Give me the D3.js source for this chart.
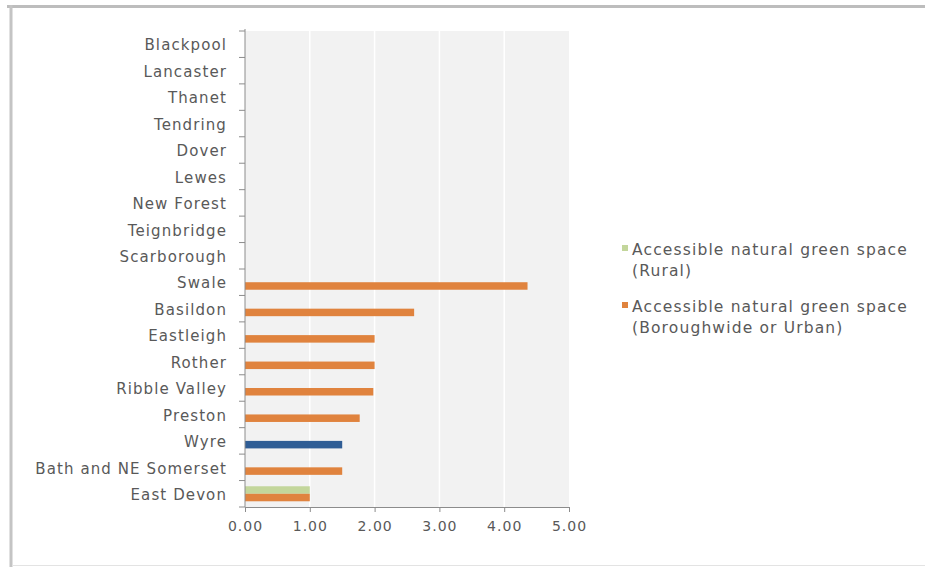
<!DOCTYPE html>
<html>
<head>
<meta charset="utf-8">
<script src="https://cdn.jsdelivr.net/npm/d3@7"></script>
<style>
  html, body { margin: 0; padding: 0; background: #ffffff; }
  svg { display: block; }
  text { font-family: "DejaVu Sans", sans-serif; fill: #595959; }
</style>
</head>
<body>
<svg id="chart" width="925" height="567"></svg>
<script>
// ---- data ----
const categories = ["Blackpool", "Lancaster", "Thanet", "Tendring", "Dover", "Lewes",
  "New Forest", "Teignbridge", "Scarborough", "Swale", "Basildon", "Eastleigh",
  "Rother", "Ribble Valley", "Preston", "Wyre", "Bath and NE Somerset", "East Devon"];
const ruralValues = [null, null, null, null, null, null, null, null, null,
  null, null, null, null, null, null, null, null, 1.00];
const urbanValues = [null, null, null, null, null, null, null, null, null,
  4.36, 2.61, 2.00, 2.00, 1.98, 1.77, 1.50, 1.50, 1.00];
const seriesNames = ["Accessible natural green space (Rural)",
  "Accessible natural green space (Boroughwide or Urban)"];
const legendLines = [["Accessible natural green space", "(Rural)"],
  ["Accessible natural green space", "(Boroughwide or Urban)"]];
const highlightCategory = "Wyre";
const xTicks = [0, 1, 2, 3, 4, 5];

// ---- styles ----
const colors = { rural: "#c3d69b", urban: "#e0833e", highlight: "#2f5d95" };

const svg = d3.select("#chart");

// chart frame
svg.append("line").attr("x1", 7).attr("x2", 925).attr("y1", 6.5).attr("y2", 6.5)
  .attr("stroke", "#bdbdbd").attr("stroke-width", 3);
svg.append("line").attr("x1", 11).attr("x2", 11).attr("y1", 5).attr("y2", 567)
  .attr("stroke", "#c4c4c4").attr("stroke-width", 3);
svg.append("line").attr("x1", 12).attr("x2", 925).attr("y1", 565.5).attr("y2", 565.5)
  .attr("stroke", "#e3e3e3").attr("stroke-width", 1);

const plot = { left: 245, right: 569, top: 31, bottom: 507 };

const x = d3.scaleLinear().domain([0, 5]).range([plot.left, plot.right]);
const y = d3.scaleBand().domain(categories).range([plot.top, plot.bottom]).paddingInner(0).paddingOuter(0);
const inner = d3.scaleBand().domain(["rural", "urban"])
  .range([0, y.bandwidth()]).paddingInner(0).paddingOuter(0.76);

// plot background
svg.append("rect").attr("x", plot.left).attr("y", plot.top)
  .attr("width", plot.right - plot.left).attr("height", plot.bottom - plot.top)
  .attr("fill", "#f2f2f2");

// gridlines
svg.append("g").selectAll("line").data(xTicks.filter(d => d > 0 && d < 5)).join("line")
  .attr("x1", d => x(d)).attr("x2", d => x(d))
  .attr("y1", plot.top).attr("y2", plot.bottom)
  .attr("stroke", "#ffffff").attr("stroke-width", 1.5);

// bars
const rows = categories.map((c, i) => ({ c, rural: ruralValues[i], urban: urbanValues[i] }));
const barG = svg.append("g");
barG.selectAll("rect.rural").data(rows.filter(r => r.rural != null)).join("rect")
  .attr("class", "rural")
  .attr("x", x(0)).attr("y", d => y(d.c) + inner("rural"))
  .attr("width", d => x(d.rural) - x(0)).attr("height", inner.bandwidth())
  .attr("fill", colors.rural);
barG.selectAll("rect.urban").data(rows.filter(r => r.urban != null)).join("rect")
  .attr("class", "urban")
  .attr("x", x(0)).attr("y", d => y(d.c) + inner("urban"))
  .attr("width", d => x(d.urban) - x(0)).attr("height", inner.bandwidth())
  .attr("fill", d => d.c === highlightCategory ? colors.highlight : colors.urban);

// x axis
const xAxis = d3.axisBottom(x).tickValues(xTicks).tickFormat(d3.format(".2f"))
  .tickSizeInner(5).tickSizeOuter(0).tickPadding(9);
const gx = svg.append("g").attr("transform", `translate(0,${plot.bottom})`).call(xAxis);
gx.select(".domain").attr("stroke", "#8c8c8c");
gx.selectAll(".tick line").attr("stroke", "#8c8c8c");
gx.selectAll(".tick text").attr("font-size", 14).style("font-family", "DejaVu Sans, sans-serif")
  .style("letter-spacing", "1px").attr("fill", "#595959");

// y axis (labels centered on bands, ticks between categories)
const gy = svg.append("g").attr("transform", `translate(${plot.left},0)`);
gy.append("line").attr("x1", 0).attr("x2", 0).attr("y1", plot.top - 2).attr("y2", plot.bottom)
  .attr("stroke", "#8c8c8c");
const boundaries = categories.map(c => y(c)).concat([plot.bottom]);
gy.selectAll("line.tk").data(boundaries).join("line").attr("class", "tk")
  .attr("x1", -6).attr("x2", 0).attr("y1", d => d).attr("y2", d => d)
  .attr("stroke", "#8c8c8c");
gy.selectAll("text").data(categories).join("text")
  .attr("x", -18).attr("y", d => y(d) + y.bandwidth() / 2 + 1)
  .attr("dy", "0.35em").attr("text-anchor", "end")
  .attr("font-size", 15).style("letter-spacing", "1.1px").text(d => d);

// legend
const legend = svg.append("g");
const legendY = [250, 307];
const legendColors = [colors.rural, colors.urban];
legendLines.forEach((lines, i) => {
  legend.append("rect").attr("x", 622).attr("y", legendY[i] - 5).attr("width", 6).attr("height", 6)
    .attr("fill", legendColors[i]);
  lines.forEach((t, j) => {
    legend.append("text").attr("x", 632).attr("y", legendY[i] + j * 21)
      .attr("dy", "0.35em").attr("font-size", 15.5).style("letter-spacing", "1.15px").text(t);
  });
});
</script>
</body>
</html>
